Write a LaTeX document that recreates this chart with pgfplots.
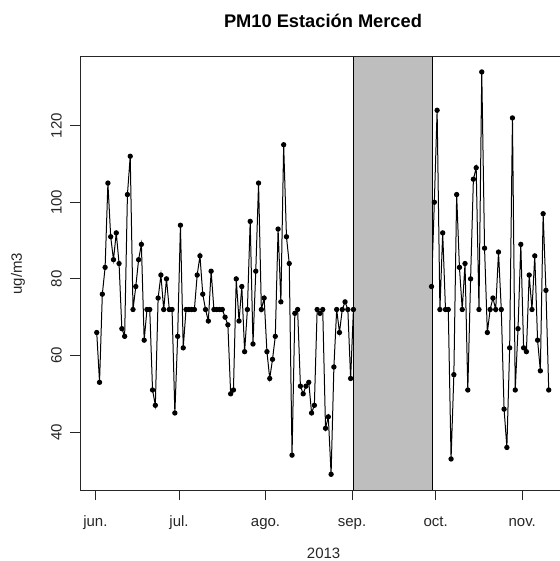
\documentclass[border=0pt]{standalone}
\usepackage{pgfplots}
\pgfplotsset{compat=1.18}
\usepackage{fontspec}
\setmainfont{Liberation Sans}
\definecolor{rgray}{RGB}{190,190,190}
\begin{document}
\begin{tikzpicture}
\begin{axis}[
  at={(60pt,53.25pt)}, anchor=south west,
  scale only axis, width=376.65pt, height=324.75pt,
  xmin=-6, xmax=174, ymin=24.9, ymax=137.9,
  axis on top,
  axis line style={line width=0.75pt, black!85},
  every tick/.style={line width=0.75pt, black!85},
  tick align=outside, major tick length=7.5pt,
  xtick pos=bottom, ytick pos=left,
  xtick={-0.5,29.5,60.5,91.5,121.5,152.5},
  xticklabels={jun.,jul.,ago.,sep.,oct.,nov.},
  ytick={40,60,80,100,120},
  /pgf/number format/assume math mode=true,
  tick label style={font=\fontsize{11.25pt}{13pt}\selectfont, text=black!85},
  xticklabel style={anchor=base, yshift=-19.5pt, inner sep=0pt},
  yticklabel style={inner sep=0pt, xshift=-6.2pt, rotate=90, anchor=base},
  clip=true,
]
\addplot[black, line width=0.75pt, mark=*, mark size=1.6pt, mark options={solid, fill=black}] coordinates {
(0,66) (1,53) (2,76) (3,83) (4,105) (5,91) (6,85) (7,92) (8,84) (9,67)
(10,65) (11,102) (12,112) (13,72) (14,78) (15,85) (16,89) (17,64) (18,72) (19,72)
(20,51) (21,47) (22,75) (23,81) (24,72) (25,80) (26,72) (27,72) (28,45) (29,65)
(30,94) (31,62) (32,72) (33,72) (34,72) (35,72) (36,81) (37,86) (38,76) (39,72)
(40,69) (41,82) (42,72) (43,72) (44,72) (45,72) (46,70) (47,68) (48,50) (49,51)
(50,80) (51,69) (52,78) (53,61) (54,72) (55,95) (56,63) (57,82) (58,105) (59,72)
(60,75) (61,61) (62,54) (63,59) (64,65) (65,93) (66,74) (67,115) (68,91) (69,84)
(70,34) (71,71) (72,72) (73,52) (74,50) (75,52) (76,53) (77,45) (78,47) (79,72)
(80,71) (81,72) (82,41) (83,44) (84,29) (85,57) (86,72) (87,66) (88,72) (89,74)
(90,72) (91,54) (92,72)
(120,78) (121,100) (122,124) (123,72) (124,92) (125,72) (126,72) (127,33) (128,55) (129,102)
(130,83) (131,72) (132,84) (133,51) (134,80) (135,106) (136,109) (137,72) (138,134) (139,88)
(140,66) (141,72) (142,75) (143,72) (144,87) (145,72) (146,46) (147,36) (148,62) (149,122)
(150,51) (151,67) (152,89) (153,62) (154,61) (155,81) (156,72) (157,86) (158,64) (159,56)
(160,97) (161,77) (162,51)
};
\addplot[fill=rgray, draw=black, line width=0.75pt] coordinates {
(92.2,24.9) (92.2,137.9) (120.5,137.9) (120.5,24.9)} -- cycle;
\end{axis}
\node[anchor=base, font=\bfseries\fontsize{13.7pt}{16pt}\selectfont] at (242.25pt,399.75pt) {PM10 Estación Merced};
\node[anchor=base, font=\fontsize{11.25pt}{13pt}\selectfont, text=black!85] at (242.7pt,2pt) {2013};
\node[rotate=90, anchor=center, font=\fontsize{11.25pt}{13pt}\selectfont, text=black!85] at (13.5pt,215.6pt) {ug/m3};
\pgfresetboundingbox
\useasboundingbox (0,0) rectangle (420pt,420.75pt);
\end{tikzpicture}
\end{document}
